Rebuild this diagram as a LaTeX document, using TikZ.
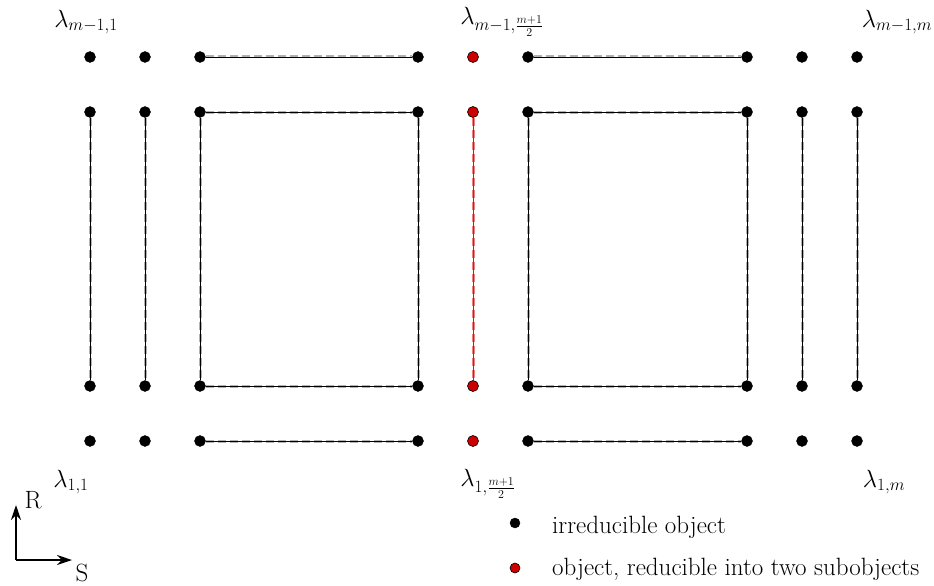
\documentclass[tikz,border=0pt]{standalone}
\usetikzlibrary{arrows.meta}
\definecolor{rdotc}{RGB}{204,0,0}
\definecolor{rline}{RGB}{220,20,20}
\definecolor{rdash}{RGB}{240,130,130}
\begin{document}
\begin{tikzpicture}[x=1pt,y=-1pt,
  font=\fontsize{25}{30}\selectfont,
  bdot/.style={circle,inner sep=0pt,minimum size=11pt,fill=black,draw=black},
  rdot/.style={circle,inner sep=0pt,minimum size=11pt,fill=rdotc,draw=black,line width=0.6pt},
  conn/.style={draw=black,line width=0.9pt,
    preaction={draw=gray!60,line width=3pt,dash pattern=on 8pt off 4pt}},
  rconn/.style={draw=rline,line width=0.9pt,
    preaction={draw=rdash,line width=3pt,dash pattern=on 8pt off 4pt}},
  lbl/.style={inner sep=0pt},
  axis/.style={line width=1.3pt,-{Stealth[length=15pt,width=10pt]}}
]
\useasboundingbox (0,0) rectangle (934,586);
% grid of dots
\foreach \x/\i in {90/1,145/2,200/3,418/4,528/6,747/7,802/8,857/9}{
  \foreach \y/\j in {57/1,112/2,386/3,441/4}{
    \node[bdot] (p\i-\j) at (\x,\y) {};
  }
}
\foreach \y/\j in {57/1,112/2,386/3,441/4}{
  \node[rdot] (p5-\j) at (473,\y) {};
}
% horizontal connectors
\foreach \j in {1,2,3,4}{
  \draw[conn] (p3-\j) -- (p4-\j);
  \draw[conn] (p6-\j) -- (p7-\j);
}
% vertical connectors
\foreach \i in {1,2,3,4,6,7,8,9}{
  \draw[conn] (p\i-2) -- (p\i-3);
}
\draw[rconn] (p5-2) -- (p5-3);
% labels
\node[lbl] (l1) at (86,22) {$\lambda_{m-1,1}$};
\node[lbl] (l2) at (502,22) {$\lambda_{m-1,\frac{m+1}{2}}$};
\node[lbl] (l3) at (897,22) {$\lambda_{m-1,m}$};
\node[lbl] (l4) at (71,482) {$\lambda_{1,1}$};
\node[lbl] (l5) at (488,484) {$\lambda_{1,\frac{m+1}{2}}$};
\node[lbl] (l6) at (884,482) {$\lambda_{1,m}$};
% axes
\coordinate (o) at (16,560);
\coordinate (ay) at (16,505);
\coordinate (ax) at (72,560);
\draw[axis] (o) -- (ay);
\draw[axis] (o) -- (ax);
\node[lbl] (R) at (33,500) {R};
\node[lbl] (S) at (82,573) {S};
% legend
\node[bdot,minimum size=10pt] (lb) at (515,523) {};
\node[lbl,anchor=base west] (lt) at (552,533) {irreducible object};
\node[rdot,minimum size=10pt] (lr) at (515,568) {};
\node[lbl,anchor=base west] (lrt) at (552,575) {object, reducible into two subobjects};
\end{tikzpicture}
\end{document}
